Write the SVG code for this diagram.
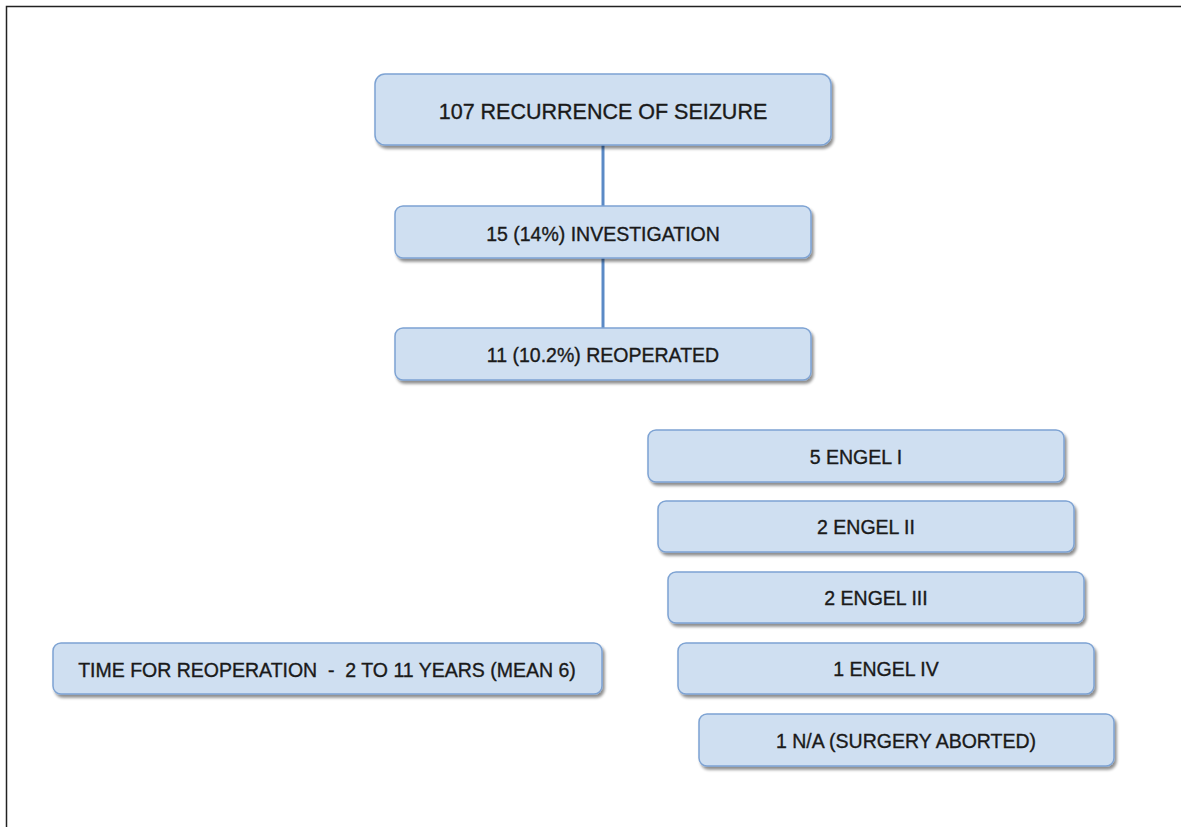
<svg xmlns="http://www.w3.org/2000/svg" width="1181" height="827" viewBox="0 0 1181 827">
<defs>
<filter id="sh" x="-5%" y="-20%" width="110%" height="150%">
<feGaussianBlur in="SourceAlpha" stdDeviation="1.5"/>
<feOffset dx="1.5" dy="3" result="b"/>
<feComponentTransfer><feFuncA type="linear" slope="0.45"/></feComponentTransfer>
<feMerge><feMergeNode/><feMergeNode in="SourceGraphic"/></feMerge>
</filter>
</defs>
<style>
.box{fill:#cfdff1;stroke:#7ea3d3;stroke-width:1.5;filter:url(#sh)}
.t{font-family:"Liberation Sans",Arial,sans-serif;font-size:19.5px;fill:#1a1a1a;stroke:#1a1a1a;stroke-width:0.35;text-anchor:middle;dominant-baseline:central}
.big{font-size:21.5px}
.conn{stroke:#5b8ac6;stroke-width:3;fill:none}
.frame{stroke:#222;stroke-width:1.5;fill:none}
</style>
<rect width="1181" height="827" fill="#fff"/>
<path class="frame" d="M6.5,827 V6.5 H1181"/>
<g id="connectors">
<line class="conn" x1="603" y1="145" x2="603" y2="206"/>
<line class="conn" x1="603" y1="258" x2="603" y2="328"/>
</g>
<g id="n1"><rect class="box" x="375" y="74" width="456" height="71" rx="10"/><text class="t big" x="603" y="112">107 RECURRENCE OF SEIZURE</text></g>
<g id="n2"><rect class="box" x="395" y="206" width="416" height="52" rx="8"/><text class="t" x="603" y="234">15 (14%) INVESTIGATION</text></g>
<g id="n3"><rect class="box" x="395" y="328" width="416" height="52" rx="8"/><text class="t" x="603" y="355">11 (10.2%) REOPERATED</text></g>
<g id="n4"><rect class="box" x="648" y="430" width="416" height="52" rx="8"/><text class="t" x="856" y="457">5 ENGEL I</text></g>
<g id="n5"><rect class="box" x="658" y="501" width="416" height="51" rx="8"/><text class="t" x="866" y="527">2 ENGEL II</text></g>
<g id="n6"><rect class="box" x="668" y="572" width="416" height="51" rx="8"/><text class="t" x="876" y="598">2 ENGEL III</text></g>
<g id="n7"><rect class="box" x="678" y="643" width="416" height="51" rx="8"/><text class="t" x="886" y="669">1 ENGEL IV</text></g>
<g id="n8"><rect class="box" x="699" y="714" width="415" height="52" rx="8"/><text class="t" x="906" y="741">1 N/A (SURGERY ABORTED)</text></g>
<g id="n9"><rect class="box" x="53" y="643" width="549" height="51" rx="8"/><text class="t" x="327" y="670" xml:space="preserve">TIME FOR REOPERATION  -  2 TO 11 YEARS (MEAN 6)</text></g>
</svg>
